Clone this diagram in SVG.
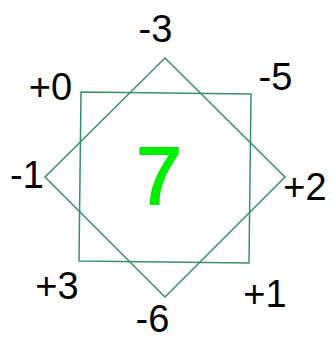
<svg xmlns="http://www.w3.org/2000/svg" width="332" height="340" viewBox="0 0 332 340">
<style>
.lbl{font-family:"Liberation Sans","Noto Sans",sans-serif;font-size:38px;fill:#000;text-anchor:middle}
.shape{fill:none;stroke:#3a8f6a;stroke-width:1.5}
.big{font-family:"Liberation Sans","Noto Sans",sans-serif;font-size:82px;fill:#00ee00;stroke:#00ee00;stroke-width:2;text-anchor:middle}
</style>
<rect width="332" height="340" fill="#fff"/>
<g id="square"><polygon class="shape" points="81,92 251,94 249,263 79,261"/></g>
<g id="diamond"><polygon class="shape" points="165,58 285,177 165,297 45,177"/></g>
<g id="center"><text class="big" x="159" y="204">7</text></g>
<g id="labels">
<text class="lbl" x="155.5" y="42">-3</text>
<text class="lbl" x="50.5" y="100">+0</text>
<text class="lbl" x="275.5" y="90">-5</text>
<text class="lbl" x="27" y="188">-1</text>
<text class="lbl" x="305" y="200">+2</text>
<text class="lbl" x="57" y="299">+3</text>
<text class="lbl" x="265" y="307">+1</text>
<text class="lbl" x="152.5" y="332">-6</text>
</g>
</svg>
